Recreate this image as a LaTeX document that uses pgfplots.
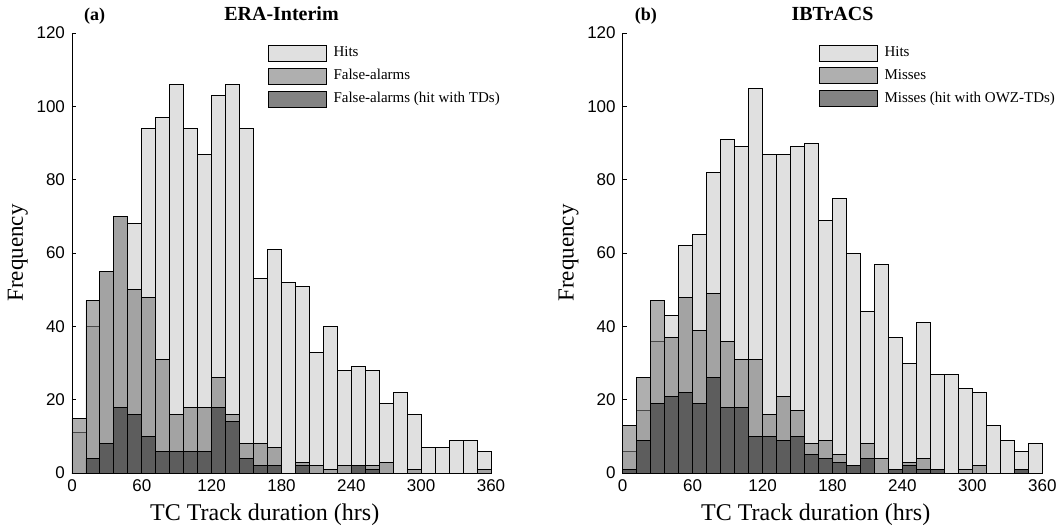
\documentclass[border=0pt]{standalone}
\usepackage{fontspec}
\setmainfont{Liberation Serif}
\setsansfont{Liberation Sans}
\usepackage{pgfplots}
\usepackage{pgfplotstable}
\pgfplotsset{compat=1.18}

\definecolor{hitc}{gray}{0.80}
\definecolor{fac}{gray}{0.48}
\definecolor{tdc}{gray}{0.19}

% bins of 12 h, left edges; last row closes the interval
\pgfplotstableread{
x   H   F   D
0   11  15  0
12  40  47  4
24  55  55  8
36  70  70  18
48  68  50  16
60  94  48  10
72  97  31  6
84  106 16  6
96  94  18  6
108 87  18  6
120 103 26  18
132 106 16  14
144 94  8   4
156 53  8   2
168 61  7   2
180 52  0   0
192 51  3   2
204 33  2   0
216 40  1   0
228 28  2   0
240 29  2   2
252 28  2   1
264 19  3   0
276 22  0   0
288 16  1   0
300 7   0   0
312 7   0   0
324 9   0   0
336 9   0   0
348 6   1   0
360 0   0   0
}\eradata

\pgfplotstableread{
x   H   M   D
0   6   13  1
12  17  26  9
24  36  47  19
36  43  37  21
48  62  48  22
60  65  39  19
72  82  49  26
84  91  36  18
96  89  31  18
108 105 31  10
120 87  16  10
132 87  21  9
144 89  17  10
156 90  8   5
168 69  9   4
180 75  5   3
192 60  2   2
204 44  8   4
216 57  4   0
228 37  1   1
240 30  3   2
252 41  4   1
264 27  1   1
276 27  0   0
288 23  1   0
300 22  2   0
312 13  0   0
324 9   0   0
336 6   1   1
348 8   0   0
360 0   0   0
}\ibtdata

\pgfplotsset{
  histbar/.style={ybar interval, draw=black, line width=0.45pt, fill opacity=0.6,
    legend image code/.code={\draw[##1] (0pt,-4pt) rectangle (29pt,4pt);}},
  panel/.style={
    scale only axis, height=220pt,
    xmin=0, xmax=360, ymin=0, ymax=120,
    xtick={0,60,...,360}, ytick={0,20,...,120},
    axis x line*=bottom, axis y line*=left,
    tick align=inside, major tick length=2pt,
    tick style={black, line width=0.45pt},
    axis line style={line width=0.45pt},
    tick label style={font=\sffamily\fontsize{8.5}{10}\selectfont},
    /pgf/number format/assume math mode=true,
    xlabel={TC Track duration (hrs)}, ylabel={Frequency},
    xlabel style={font=\fontsize{12}{14}\selectfont, at={(axis description cs:0.46,-0.0955)}, anchor=center},
    ylabel style={font=\fontsize{11.5}{14}\selectfont, at={(axis description cs:-0.129,0.5)}, anchor=center},
    legend style={draw=none, fill=none, at={(0.466,0.974)}, anchor=north west, inner sep=0pt,
      font=\fontsize{7.5}{9}\selectfont, row sep=2.8pt, nodes={inner sep=1pt},
      /tikz/every odd column/.append style={column sep=2.5pt}},
    legend cell align=left,
    clip=false,
  }
}

\begin{document}
\begin{tikzpicture}
\path[use as bounding box] (-36pt,-26.5pt) rectangle (495pt,236.5pt);

\begin{axis}[panel, width=209.5pt, at={(0pt,0pt)}]
\addplot[histbar, fill=hitc] table[x=x, y=H] {\eradata};
\addplot[histbar, fill=fac] table[x=x, y=F] {\eradata};
\addplot[histbar, fill=tdc] table[x=x, y=D] {\eradata};
\legend{Hits, False-alarms, False-alarms (hit with TDs)}
\node[anchor=base, yshift=6.5pt, font=\bfseries\fontsize{10}{12}\selectfont] at (rel axis cs:0.5,1) {ERA-Interim};
\node[anchor=base west, yshift=6.5pt, font=\bfseries\fontsize{9}{10}\selectfont] at (rel axis cs:0.012,1) {(a)};
\end{axis}

\begin{axis}[panel, width=209.8pt, at={(275.35pt,0pt)}]
\addplot[histbar, fill=hitc] table[x=x, y=H] {\ibtdata};
\addplot[histbar, fill=fac] table[x=x, y=M] {\ibtdata};
\addplot[histbar, fill=tdc] table[x=x, y=D] {\ibtdata};
\legend{Hits, Misses, Misses (hit with OWZ-TDs)}
\node[anchor=base, yshift=6.5pt, font=\bfseries\fontsize{10}{12}\selectfont] at (rel axis cs:0.5,1) {IBTrACS};
\node[anchor=base west, yshift=6.5pt, font=\bfseries\fontsize{9}{10}\selectfont] at (rel axis cs:0.012,1) {(b)};
\end{axis}
\end{tikzpicture}
\end{document}
